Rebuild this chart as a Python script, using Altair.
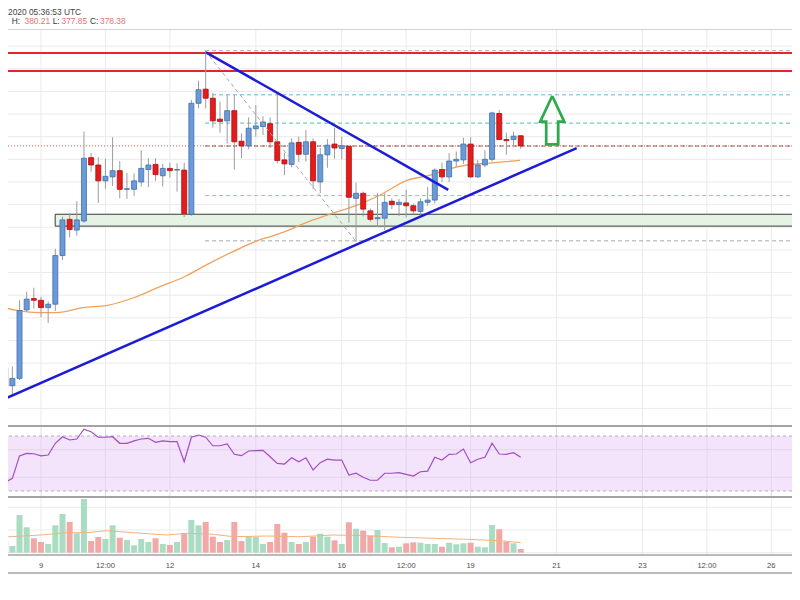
import altair as alt
import numpy as np
import pandas as pd

# ---------------- data ----------------
first_candle_day = 8.0          # 8 Oct 2020 00:00 UTC, 4-hour candles
candle_step_day = 1 / 6

opens = [341.4, 339.2, 336.0, 337.3, 349.4, 351.4, 351.1, 349.8, 350.4, 359.0,
         365.4, 363.5, 365.1, 376.3, 375.0, 372.2, 372.9, 374.0, 370.7, 370.7,
         372.0, 374.2, 375.1, 373.1, 374.4, 374.1, 374.1, 366.3, 385.9, 388.4,
         386.8, 383.1, 382.8, 384.6, 379.2, 378.4, 381.4, 381.8, 382.3, 379.1,
         375.9, 375.1, 379.0, 376.9, 379.1, 372.0, 376.8, 378.7, 377.9, 378.3,
         369.1, 370.0, 366.9, 365.5, 365.6, 368.6, 368.0, 368.3, 367.8, 366.8,
         368.4, 368.8, 374.2, 372.9, 375.7, 375.9, 378.7, 372.9, 375.0, 376.0,
         384.1, 379.5, 379.5, 380.17]
highs = [342.0, 340.2, 339.4, 351.1, 352.6, 353.3, 351.7, 350.9, 360.2, 365.9,
         366.5, 368.6, 380.9, 377.1, 376.4, 376.1, 379.9, 375.7, 373.6, 373.5,
         377.6, 376.2, 376.2, 375.2, 375.4, 375.3, 375.4, 386.5, 389.9, 395.2,
         387.7, 386.2, 387.4, 387.4, 380.6, 383.4, 385.6, 383.6, 383.4, 387.7,
         377.2, 379.7, 380.0, 381.2, 379.7, 378.0, 379.6, 381.6, 380.0, 378.4,
         371.9, 370.3, 367.3, 370.0, 370.0, 369.1, 369.0, 370.6, 368.2, 369.1,
         371.1, 374.4, 375.4, 377.1, 377.4, 379.8, 379.9, 375.9, 377.6, 384.4,
         384.7, 380.7, 380.9, 380.21]
lows = [339.3, 334.4, 334.4, 337.0, 349.1, 349.6, 348.1, 347.1, 349.2, 358.2,
        362.2, 362.5, 364.8, 373.8, 368.3, 370.8, 371.3, 369.1, 369.0, 369.5,
        371.2, 371.1, 372.2, 371.2, 372.8, 370.3, 365.8, 366.0, 385.0, 385.0,
        381.6, 380.7, 378.8, 374.2, 376.2, 377.8, 380.0, 380.3, 378.0, 375.3,
        373.2, 374.6, 375.5, 375.6, 370.8, 370.0, 374.5, 376.1, 376.0, 364.8,
        361.4, 365.9, 365.0, 364.1, 363.5, 367.2, 366.0, 365.7, 366.3, 366.2,
        367.8, 368.2, 372.0, 372.0, 374.7, 375.2, 372.7, 372.7, 374.6, 375.6,
        379.4, 376.8, 378.2, 377.85]
closes = [339.8, 335.8, 337.3, 349.3, 351.3, 351.1, 349.8, 350.4, 359.0, 365.3,
          363.6, 365.3, 376.2, 375.0, 372.2, 373.0, 374.0, 370.7, 370.8, 372.2,
          374.4, 375.0, 373.3, 374.4, 374.0, 374.2, 366.4, 385.9, 388.3, 386.8,
          382.8, 382.7, 384.6, 379.1, 378.4, 381.5, 381.9, 382.6, 379.1, 375.8,
          375.2, 378.9, 376.9, 379.1, 372.2, 376.8, 378.5, 378.0, 378.4, 369.3,
          370.0, 367.2, 365.4, 365.7, 368.4, 368.0, 368.4, 367.8, 366.9, 368.5,
          368.8, 374.1, 372.9, 375.7, 376.0, 378.7, 372.9, 375.0, 376.0, 384.2,
          379.5, 379.3, 380.1, 378.38]
volumes = [7.7, 11.0, 6.7, 37.7, 25.4, 14.4, 10.7, 8.7, 27.4, 38.7,
           30.7, 19.4, 53.7, 11.7, 15.7, 13.7, 27.4, 15.0, 12.7, 7.4,
           13.7, 10.7, 14.4, 8.7, 7.7, 10.7, 19.4, 32.7, 27.4, 30.7,
           16.0, 10.7, 12.7, 30.7, 11.7, 16.7, 15.7, 8.7, 10.7, 28.7,
           20.0, 10.7, 8.7, 10.7, 16.0, 19.0, 16.0, 12.4, 8.7, 30.4,
           24.0, 22.0, 17.0, 22.7, 9.7, 5.4, 6.0, 9.4, 10.4, 10.0,
           8.7, 8.7, 6.0, 10.0, 8.4, 9.4, 10.0, 6.0, 5.4, 27.7,
           23.4, 11.0, 9.4, 3.7]
rsi_values = [40.9, 36.3, 39.2, 55.5, 57.4, 57.1, 55.5, 56.2, 64.7, 69.5,
              67.1, 67.8, 74.9, 73.1, 69.1, 69.1, 69.5, 64.7, 64.7, 66.4,
              67.8, 68.3, 65.4, 66.4, 65.9, 65.9, 51.3, 69.1, 70.7, 69.1,
              62.9, 62.9, 64.2, 56.7, 55.7, 59.1, 59.3, 59.6, 54.9, 50.1,
              49.6, 54.2, 51.3, 54.2, 45.3, 50.6, 53.1, 52.5, 52.5, 41.6,
              42.9, 40.0, 37.8, 37.8, 42.9, 42.9, 43.3, 42.1, 40.9, 44.0,
              44.5, 54.5, 52.5, 56.7, 56.9, 60.5, 50.6, 53.1, 54.5, 64.7,
              56.9, 56.7, 57.9, 54.5]

ma_days = [8.05, 8.44, 8.98, 9.37, 9.98, 10.54, 11.14, 11.77, 12.35, 12.86, 13.47, 14.10,
           14.33, 14.56, 15.33, 15.80, 16.36, 16.89, 17.52, 18.06, 18.45, 18.92, 19.38, 20.15]
ma_values = [350.0, 349.3, 348.9, 348.9, 349.8, 350.2, 351.5, 353.5, 355.3, 357.4, 359.7, 361.8,
             362.3, 362.9, 365.3, 366.5, 367.9, 369.7, 372.3, 373.2, 374.2, 375.0, 375.3, 375.8]
vol_ma_days = [8.05, 8.98, 9.60, 10.06, 10.53, 11.15, 11.93, 12.39, 13.01, 13.48,
               14.25, 15.03, 15.80, 16.58, 17.36, 18.13, 18.91, 19.68, 20.17]
vol_ma_values = [15.4, 17.7, 20.0, 20.0, 22.0, 20.0, 17.7, 19.4, 18.4, 16.0,
                 16.7, 16.0, 17.7, 17.0, 15.4, 14.4, 13.4, 12.0, 10.0]

tick_days = [9, 10.5, 12, 14, 16, 17.5, 19, 21, 23, 24.5, 26]
tick_labels = ["9", "12:00", "12", "14", "16", "12:00", "19", "21", "23", "12:00", "26"]

price_grid = [332, 336, 340, 344, 348, 352, 356, 360, 364, 368, 372, 376, 380, 384, 388, 392, 396]
rsi_grid = [40, 60]
rsi_band = [30, 70]
volume_grid = [0, 22.7, 45.4]

resistance_levels = [394.8, 391.6]
support_low, support_high = 364.2, 366.3
support_start_day, support_end_day = 9.33, 27.0
last_close = 378.38

fib_start_day, fib_end_day = 12.82, 27.0
fib_levels = [395.2, 387.4, 382.4, 378.35, 369.6, 361.6]
fib_diag_days = [12.82, 16.33]
fib_diag_prices = [395.2, 361.5]

trend_down_days = [12.84, 18.48]
trend_down_prices = [394.9, 370.6]
trend_up_days = [8.16, 21.47]
trend_up_prices = [333.7, 378.0]

arrow_days = [20.90, 21.18, 21.04, 21.04, 20.76, 20.76, 20.62, 20.90]
arrow_prices = [387.2, 382.65, 382.65, 378.66, 378.66, 382.65, 382.65, 387.2]

header_time = "2020 05:36:53 UTC"
header_keys = ["H:", "L:", "C:"]
header_vals = ["380.21", "377.85", "378.38"]

# ---------------- styles / layout ----------------
W, H = 784, 566
MAIN_TOP, MAIN_BOT = 21, 417
RSI_TOP, RSI_BOT = 417, 488
VOL_TOP, VOL_BOT = 488, 566
VOL_SEP = 547
FONT = "Liberation Sans"
GRID = "#ebebeb"
UP_FILL, UP_EDGE = "#6b9bd6", "#3f6fae"
DN_FILL, DN_EDGE = "#e41c1c", "#b00c0c"
WICK = "#9c9c9c"
VOL_UP, VOL_DN = "#a9dcc3", "#f3a8a8"
BORDER = "#a3a3a3"
fib_colors = ["#a8a8a8", "#62b3e3", "#4fbfb2", "#9c5454", "#e4a2a2", "#a8a8a8"]

xscale = alt.Scale(domain=[8.2318, 26.4814], nice=False, zero=False, padding=0)
pscale = alt.Scale(domain=[329.06, 399.03], range=[MAIN_BOT, MAIN_TOP], nice=False, zero=False, padding=0)
rscale = alt.Scale(domain=[26.36, 78.0], range=[RSI_BOT, RSI_TOP], nice=False, zero=False, padding=0)
vscale = alt.Scale(domain=[-21.3, 56.7], range=[VOL_BOT, VOL_TOP], nice=False, zero=False, padding=0)


def X(f):
    return alt.X(f"{f}:Q", scale=xscale, axis=None)


def Y(f, s):
    return alt.Y(f"{f}:Q", scale=s, axis=None)


one = pd.DataFrame({"a": [0]})

# ---------------- tables ----------------
n = len(opens)
cd = pd.DataFrame({
    "day": [first_candle_day + i * candle_step_day for i in range(n)],
    "open": opens, "high": highs, "low": lows, "close": closes,
    "volume": volumes, "rsi": rsi_values,
})
up = cd["close"] >= cd["open"]
cd["lo"] = cd[["open", "close"]].min(axis=1)
cd["hi"] = cd[["open", "close"]].max(axis=1)
cd["fill"] = np.where(up, UP_FILL, DN_FILL)
cd["edge"] = np.where(up, UP_EDGE, DN_EDGE)
cd["vcol"] = np.where(up, VOL_UP, VOL_DN)

ticks = pd.DataFrame({"day": tick_days, "label": tick_labels})
ma = pd.DataFrame({"day": ma_days, "v": ma_values})
vma = pd.DataFrame({"day": vol_ma_days, "v": vol_ma_values})
fib = pd.DataFrame({"d1": fib_start_day, "d2": fib_end_day, "p": fib_levels, "c": fib_colors})
trend = pd.DataFrame({
    "day": trend_down_days + trend_up_days,
    "p": trend_down_prices + trend_up_prices,
    "line": ["down"] * 2 + ["up"] * 2,
})
diag = pd.DataFrame({"day": fib_diag_days, "p": fib_diag_prices})
arrow = pd.DataFrame({"day": arrow_days, "p": arrow_prices, "k": list(range(len(arrow_days)))})
box = pd.DataFrame({"d1": [support_start_day], "d2": [support_end_day],
                    "p1": [support_low], "p2": [support_high]})

layers = []

# ---------------- header ----------------
HF = 8.4
layers.append(alt.Chart(pd.DataFrame({"t": [header_time]})).mark_text(
    align="left", baseline="top", font=FONT, fontSize=HF, color="#444444"
).encode(x=alt.value(0), y=alt.value(0), text="t:N"))
for k, xk in zip(header_keys, [3.7, 44.7, 82.0]):
    layers.append(alt.Chart(pd.DataFrame({"t": [k]})).mark_text(
        align="left", baseline="top", font=FONT, fontSize=HF, color="#333333"
    ).encode(x=alt.value(xk), y=alt.value(9.3), text="t:N"))
for v, xv in zip(header_vals, [16.5, 53.5, 92.0]):
    layers.append(alt.Chart(pd.DataFrame({"t": [v]})).mark_text(
        align="left", baseline="top", font=FONT, fontSize=HF, color="#e57373"
    ).encode(x=alt.value(xv), y=alt.value(9.3), text="t:N"))

# ---------------- main price pane ----------------
layers += [
    alt.Chart(pd.DataFrame({"p": price_grid})).mark_rule(color=GRID, strokeWidth=1).encode(y=Y("p", pscale)),
    alt.Chart(ticks).mark_rule(color=GRID, strokeWidth=1).encode(
        x=X("day"), y=alt.value(MAIN_TOP), y2=alt.value(MAIN_BOT)),
    alt.Chart(box).mark_rect(clip=True, fill="#e4f3e4", stroke="#3a3a3a", strokeWidth=1).encode(
        x=X("d1"), x2="d2", y=Y("p1", pscale), y2="p2"),
    alt.Chart(pd.DataFrame({"p": [last_close]})).mark_rule(
        color="#ef5350", strokeWidth=1, strokeDash=[1, 2]).encode(y=Y("p", pscale)),
    alt.Chart(fib).mark_rule(clip=True, strokeWidth=1, strokeDash=[4, 3]).encode(
        x=X("d1"), x2="d2", y=Y("p", pscale), color=alt.Color("c:N", scale=None)),
    alt.Chart(pd.DataFrame({"p": resistance_levels})).mark_rule(color="#e3262b", strokeWidth=2).encode(
        y=Y("p", pscale)),
    alt.Chart(ma).mark_line(clip=True, color="#f0a25e", strokeWidth=1.3, interpolate="monotone").encode(
        x=X("day"), y=Y("v", pscale)),
    alt.Chart(cd).mark_rule(clip=True, color=WICK, strokeWidth=1).encode(
        x=X("day"), y=Y("low", pscale), y2="high"),
    alt.Chart(cd).mark_bar(clip=True, size=5, strokeWidth=0.8).encode(
        x=X("day"), y=Y("lo", pscale), y2="hi",
        fill=alt.Fill("fill:N", scale=None), stroke=alt.Stroke("edge:N", scale=None)),
    alt.Chart(diag).mark_line(clip=True, color="#a8a8a8", strokeWidth=1, strokeDash=[4, 3]).encode(
        x=X("day"), y=Y("p", pscale)),
    alt.Chart(trend).mark_line(clip=True, color="#1c1cd8", strokeWidth=2.5).encode(
        x=X("day"), y=Y("p", pscale), detail="line:N"),
    alt.Chart(arrow).mark_line(clip=True, color="#2eaa4c", strokeWidth=2.7, strokeJoin="miter").encode(
        x=X("day"), y=Y("p", pscale), order="k:Q"),
    alt.Chart(one).mark_rule(color="#d4d4d4", strokeWidth=1).encode(y=alt.value(MAIN_TOP + 0.5)),
]

# ---------------- RSI pane ----------------
layers += [
    alt.Chart(pd.DataFrame({"a": [rsi_band[0]], "b": [rsi_band[1]]})).mark_rect(fill="#f3e4fc").encode(
        x=alt.value(0), x2=alt.value(W), y=Y("a", rscale), y2="b"),
    alt.Chart(ticks).mark_rule(color="#e2d8ea", strokeWidth=1).encode(
        x=X("day"), y=alt.value(RSI_TOP), y2=alt.value(RSI_BOT)),
    alt.Chart(pd.DataFrame({"p": rsi_grid})).mark_rule(color="#e2d6ea", strokeWidth=1).encode(
        y=Y("p", rscale)),
    alt.Chart(pd.DataFrame({"p": rsi_band})).mark_rule(
        color="#b4b4b4", strokeWidth=1, strokeDash=[3, 3]).encode(y=Y("p", rscale)),
    alt.Chart(cd).mark_line(clip=True, color="#a34cc4", strokeWidth=1.2).encode(
        x=X("day"), y=Y("rsi", rscale)),
    alt.Chart(one).mark_rule(color=BORDER, strokeWidth=2).encode(y=alt.value(RSI_TOP + 1)),
]

# ---------------- volume pane + time axis ----------------
layers += [
    alt.Chart(ticks).mark_rule(color=GRID, strokeWidth=1).encode(
        x=X("day"), y=alt.value(VOL_TOP), y2=alt.value(VOL_SEP)),
    alt.Chart(pd.DataFrame({"p": volume_grid})).mark_rule(color=GRID, strokeWidth=1).encode(
        y=Y("p", vscale)),
    alt.Chart(cd).mark_bar(clip=True, size=6).encode(
        x=X("day"), y=Y("volume", vscale), y2=alt.datum(0), color=alt.Color("vcol:N", scale=None)),
    alt.Chart(vma).mark_line(clip=True, color="#f6b27a", strokeWidth=1).encode(
        x=X("day"), y=Y("v", vscale)),
    alt.Chart(ticks).mark_text(font=FONT, fontSize=7.6, color="#4d4d4d", baseline="middle").encode(
        x=X("day"), y=alt.value(VOL_SEP + 11), text="label:N"),
    alt.Chart(one).mark_rule(color=BORDER, strokeWidth=2).encode(y=alt.value(VOL_TOP + 1)),
    alt.Chart(one).mark_rule(color=BORDER, strokeWidth=1.5).encode(y=alt.value(VOL_SEP)),
    alt.Chart(one).mark_rule(color=BORDER, strokeWidth=1.5).encode(y=alt.value(VOL_BOT - 1)),
]

chart = alt.layer(*layers).resolve_scale(y="independent").properties(
    width=W, height=H, padding=0, background="white",
    autosize=alt.AutoSizeParams(type="none"),
).configure_view(strokeWidth=0)

chart.save("out.html", embed_options={"renderer": "svg", "actions": False})
